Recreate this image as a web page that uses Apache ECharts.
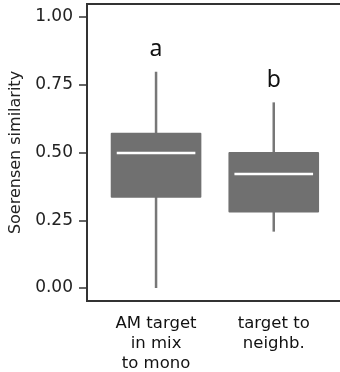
<!DOCTYPE html>
<html>
<head>
<meta charset="utf-8">
<script src="https://cdn.jsdelivr.net/npm/echarts@6.0.0/dist/echarts.min.js"></script>
<style>
  html, body { margin: 0; padding: 0; background: #fff; }
  #chart { width: 340px; height: 372px; }
</style>
</head>
<body>
<div id="chart"></div>
<script>
const categories = ['AM target\nin mix\nto mono', 'target to\nneighb.'];
const whiskerLow = [0.0, 0.208];
const q1 = [0.333, 0.279];
const median = [0.498, 0.421];
const q3 = [0.573, 0.502];
const whiskerHigh = [0.798, 0.685];
const letters = ['a', 'b'];

const font = 'DejaVu Sans';
const boxColor = '#707070';

const boxData = categories.map((_, i) => [i, whiskerLow[i], q1[i], median[i], q3[i], whiskerHigh[i]]);

function renderBox(params, api) {
  const i = api.value(0);
  const band = api.size([1, 0])[0];
  const w = band * 0.77;
  const lo = api.coord([i, api.value(1)]);
  const b = api.coord([i, api.value(2)]);
  const m = api.coord([i, api.value(3)]);
  const t = api.coord([i, api.value(4)]);
  const hi = api.coord([i, api.value(5)]);
  const cx = lo[0];
  return {
    type: 'group',
    children: [
      {
        type: 'line',
        shape: { x1: cx, y1: hi[1], x2: cx, y2: lo[1] },
        style: { stroke: '#777', lineWidth: 2.5 }
      },
      {
        type: 'rect',
        shape: { x: cx - w / 2, y: t[1], width: w, height: b[1] - t[1], r: 1 },
        style: { fill: boxColor }
      },
      {
        type: 'line',
        shape: { x1: cx - w / 2 + 6, y1: m[1], x2: cx + w / 2 - 6, y2: m[1] },
        style: { stroke: '#fff', lineWidth: 2.5 }
      },
      {
        type: 'text',
        x: cx,
        y: hi[1] - 22,
        style: {
          text: letters[params.dataIndex],
          fill: '#111',
          font: '23px "Noto Sans"',
          align: 'center',
          verticalAlign: 'middle'
        }
      }
    ]
  };
}

const chart = echarts.init(document.getElementById('chart'), null, { renderer: 'canvas' });
chart.setOption({
  animation: false,
  backgroundColor: '#fff',
  grid: [
    { left: 87, top: 4, width: 280, bottom: 71, outerBoundsMode: 'none', show: true, borderColor: '#333', borderWidth: 2, backgroundColor: 'transparent' },
    { left: 97.2, top: 17, width: 235.4, bottom: 84, outerBoundsMode: 'none' }
  ],
  xAxis: [
    { gridIndex: 0, type: 'value', show: false, min: 0, max: 1 },
    {
      gridIndex: 1,
      type: 'category',
      data: categories,
      axisLine: { show: false },
      axisTick: { show: false },
      axisLabel: {
        interval: 0,
        margin: 26,
        fontFamily: font,
        fontSize: 16.5,
        lineHeight: 20,
        color: '#111',
        align: 'center'
      }
    }
  ],
  yAxis: [
    { gridIndex: 0, type: 'value', show: false, min: 0, max: 1 },
    {
      gridIndex: 1,
      type: 'value',
      min: 0,
      max: 1,
      interval: 0.25,
      offset: 10.2,
      axisLine: { show: false },
      axisTick: { show: true, length: 8, lineStyle: { color: '#333', width: 1.5 } },
      splitLine: { show: false },
      axisLabel: {
        margin: 14,
        fontFamily: font,
        fontSize: 17,
        color: '#222',
        formatter: (v) => v.toFixed(2)
      },
      name: 'Soerensen similarity',
      nameLocation: 'middle',
      nameGap: 55,
      nameTextStyle: { fontFamily: font, fontSize: 16, color: '#222' }
    }
  ],
  series: [
    {
      type: 'custom',
      xAxisIndex: 1,
      yAxisIndex: 1,
      renderItem: renderBox,
      encode: { x: 0, y: [1, 2, 3, 4, 5] },
      data: boxData
    }
  ]
});
</script>
</body>
</html>
